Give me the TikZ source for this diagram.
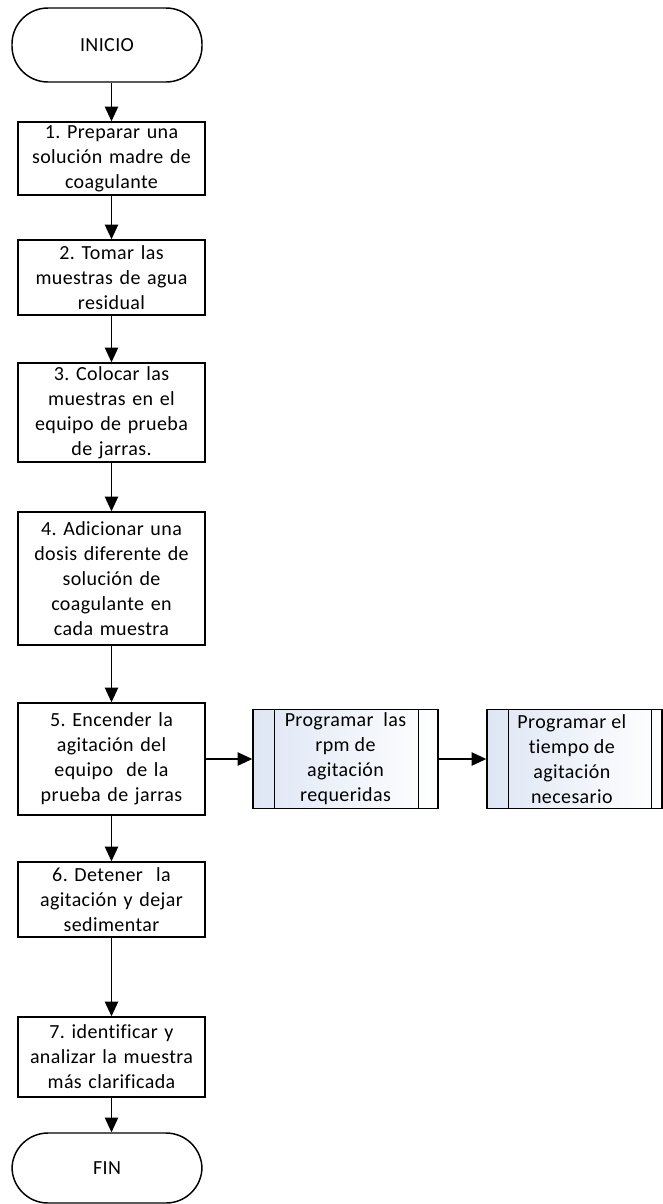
\documentclass[tikz,border=0pt]{standalone}
\usepackage{fontspec}
\setmainfont{Carlito}[LetterSpace=2,RawFeature=-liga]
\usetikzlibrary{arrows.meta}
\frenchspacing
\begin{document}
\begin{tikzpicture}[x=0.75pt,y=-0.75pt,
  every node/.style={font=\fontsize{15}{18.75}\selectfont, align=center, inner sep=0pt},
  term/.style={draw, line width=1.1pt, rounded corners=27pt, minimum width=190*0.75pt},
  stepbox/.style={draw, line width=1.1pt, fill=white, minimum width=187*0.75pt, text width=184*0.75pt},
  subbox/.style={draw, line width=1.1pt, left color={rgb,255:red,222;green,230;blue,244}, right color=white},
  conn/.style={line width=1.1pt, -{Triangle[width=10pt,length=11pt]}}
]
\useasboundingbox (0,0) rectangle (663,1204);
\node[term, minimum height=74*0.75pt] (ini) at (107,45) {INICIO};
\node[stepbox, minimum height=73*0.75pt] (b1) at (111.5,158.5) {1. Preparar una\\solución madre de\\coagulante};
\node[stepbox, minimum height=75*0.75pt] (b2) at (111.5,277.5) {2. Tomar las\\muestras de agua\\residual};
\node[stepbox, minimum height=99*0.75pt] (b3) at (111.5,412.5) {3. Colocar las\\muestras en el\\equipo de prueba\\de jarras.};
\node[stepbox, minimum height=133*0.75pt] (b4) at (111.5,578.5) {4. Adicionar una\\dosis diferente de\\solución de\\coagulante en\\cada muestra};
\node[stepbox, minimum height=112*0.75pt] (b5) at (111.5,759) {5. Encender la\\agitación del\\equipo~ de la\\prueba de jarras};
\node[subbox, minimum width=185*0.75pt, minimum height=99*0.75pt] (s1) at (345.5,759) {};
\node at (s1) {Programar~ las\\rpm de\\agitación\\requeridas};
\node[subbox, minimum width=175*0.75pt, minimum height=99*0.75pt] (s2) at (574.5,759) {};
\node at ([xshift=-2pt]s2) {Programar el\\tiempo de\\agitación\\necesario};
\node[stepbox, minimum height=75*0.75pt] (b6) at (111.5,899.5) {6. Detener~ la\\agitación y dejar\\sedimentar};
\node[stepbox, minimum height=80*0.75pt] (b7) at (111.5,1057) {7. identificar y\\analizar la muestra\\más clarificada};
\node[term, minimum height=70*0.75pt] (fin) at (107,1168) {FIN};
% subprocess inner bands
\draw[line width=1.1pt] ([xshift=22*0.75pt]s1.north west) -- ([xshift=22*0.75pt]s1.south west);
\draw[line width=1.1pt] ([xshift=-20*0.75pt]s1.north east) -- ([xshift=-20*0.75pt]s1.south east);
\draw[line width=1.1pt] ([xshift=22*0.75pt]s2.north west) -- ([xshift=22*0.75pt]s2.south west);
\draw[line width=1.1pt] ([xshift=-11*0.75pt]s2.north east) -- ([xshift=-11*0.75pt]s2.south east);
% connectors
\draw[conn] (ini.south -| b1.north) -- (b1.north);
\draw[conn] (b1.south) -- (b2.north);
\draw[conn] (b2.south) -- (b3.north);
\draw[conn] (b3.south) -- (b4.north);
\draw[conn] (b4.south) -- (b5.north);
\draw[conn] (b5.east) -- (s1.west);
\draw[conn] (s1.east) -- (s2.west);
\draw[conn] (b5.south) -- (b6.north);
\draw[conn] (b6.south) -- (b7.north);
\draw[conn] (b7.south) -- (fin.north -| b7.south);
\end{tikzpicture}
\end{document}
